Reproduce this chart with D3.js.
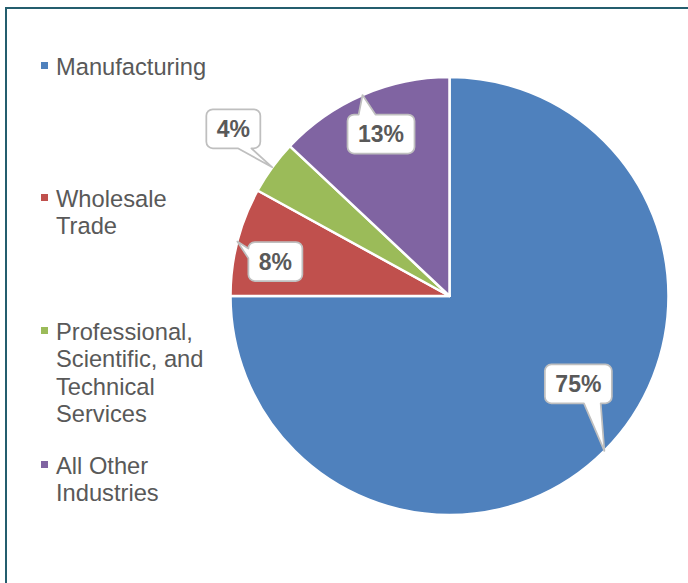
<!DOCTYPE html>
<html>
<head>
<meta charset="utf-8">
<script src="https://cdn.jsdelivr.net/npm/d3@7"></script>
<style>
  html, body { margin: 0; padding: 0; background: #fff; }
  svg { display: block; }
</style>
</head>
<body>
<script>
// Industry shares (percent of total)
const categories = ["Manufacturing", "Wholesale Trade", "Professional, Scientific, and Technical Services", "All Other Industries"];
const legendLines = [["Manufacturing"], ["Wholesale", "Trade"], ["Professional,", "Scientific, and", "Technical", "Services"], ["All Other", "Industries"]];
const shares = [75, 8, 4, 13];
const sliceColors = ["#4F81BD", "#C0504D", "#9BBB59", "#8064A2"];

const W = 688, H = 583;
const svg = d3.select("body").append("svg").attr("width", W).attr("height", H);

// Frame (top and left rules)
const frameColor = "#245e6e";
svg.append("rect").attr("x", 5).attr("y", 7).attr("width", W - 5).attr("height", 2).attr("fill", frameColor);
svg.append("rect").attr("x", 5).attr("y", 7).attr("width", 2).attr("height", H - 7).attr("fill", frameColor);

// Pie
const cx = 449.5, cy = 296, R = 219;
const pie = d3.pie().sort(null).value(d => d)(shares);
const arc = d3.arc().innerRadius(0).outerRadius(R);
const edge = d3.arc().innerRadius(R).outerRadius(R);

const g = svg.append("g").attr("transform", `translate(${cx},${cy})`);
g.selectAll("path.slice").data(pie).join("path")
  .attr("class", "slice")
  .attr("d", arc)
  .attr("fill", (d, i) => sliceColors[i])
  .attr("stroke", "#fff")
  .attr("stroke-width", 2.5)
  .attr("stroke-linejoin", "round");

// Callout boxes: centre offset from the pointer tip on the slice edge
const calloutOffsets = [[-26, -67], [38, 20], [-39, -38.5], [18.5, 39]];

// Rounded-rectangle callout with a wedge pointing at (tx, ty), all relative to box centre
function calloutPath(w, h, tx, ty) {
  const r = Math.min(w, h) / 6;
  const x0 = -w / 2, x1 = w / 2, y0 = -h / 2, y1 = h / 2;
  let side;
  if (Math.abs(ty) * w > Math.abs(tx) * h) side = ty < 0 ? "top" : "bottom";
  else side = tx < 0 ? "left" : "right";
  const bx = tx > 0 ? [x0 + w * 7 / 12, x0 + w * 10 / 12] : [x0 + w * 2 / 12, x0 + w * 5 / 12];
  const by = ty > 0 ? [y0 + h * 7 / 12, y0 + h * 10 / 12] : [y0 + h * 2 / 12, y0 + h * 5 / 12];
  const p = d3.path();
  p.moveTo(x0 + r, y0);
  if (side === "top") { p.lineTo(bx[0], y0); p.lineTo(tx, ty); p.lineTo(bx[1], y0); }
  p.lineTo(x1 - r, y0);
  p.arcTo(x1, y0, x1, y0 + r, r);
  if (side === "right") { p.lineTo(x1, by[0]); p.lineTo(tx, ty); p.lineTo(x1, by[1]); }
  p.lineTo(x1, y1 - r);
  p.arcTo(x1, y1, x1 - r, y1, r);
  if (side === "bottom") { p.lineTo(bx[1], y1); p.lineTo(tx, ty); p.lineTo(bx[0], y1); }
  p.lineTo(x0 + r, y1);
  p.arcTo(x0, y1, x0, y1 - r, r);
  if (side === "left") { p.lineTo(x0, by[1]); p.lineTo(tx, ty); p.lineTo(x0, by[0]); }
  p.lineTo(x0, y0 + r);
  p.arcTo(x0, y0, x0 + r, y0, r);
  p.closePath();
  return p.toString();
}

pie.forEach((d, i) => {
  const [tx, ty] = edge.centroid(d);
  const bxc = tx + calloutOffsets[i][0], byc = ty + calloutOffsets[i][1];
  const cg = g.append("g").attr("transform", `translate(${bxc},${byc})`);
  const shape = cg.append("path");
  const label = cg.append("text")
    .attr("text-anchor", "middle")
    .attr("y", 8)
    .attr("font-family", "'Liberation Sans', Arial, sans-serif")
    .attr("font-weight", "bold")
    .attr("font-size", 23)
    .attr("fill", "#595959")
    .text(d3.format(".0f")(d.data) + "%");
  const tw = label.node().getComputedTextLength();
  const bw = Math.round(tw + 21), bh = 39;
  shape.attr("d", calloutPath(bw, bh, tx - bxc, ty - byc))
    .attr("fill", "#fff")
    .attr("stroke", "#bfbfbf")
    .attr("stroke-width", 1.75)
    .attr("stroke-linejoin", "round");
});

// Legend
const legendFirstBaselines = [75, 207, 340, 474];
const lineStep = 27.3;
const legend = svg.append("g");
categories.forEach((c, i) => {
  const y = legendFirstBaselines[i];
  legend.append("rect")
    .attr("x", 41).attr("y", y - 13).attr("width", 7).attr("height", 7)
    .attr("fill", sliceColors[i]);
  const t = legend.append("text")
    .attr("x", 56).attr("y", y)
    .attr("font-family", "'Liberation Sans', Arial, sans-serif")
    .attr("font-size", 23.7)
    .attr("fill", "#595959");
  legendLines[i].forEach((ln, j) => {
    t.append("tspan").attr("x", 56).attr("y", y + j * lineStep).text(ln);
  });
});
</script>
</body>
</html>
